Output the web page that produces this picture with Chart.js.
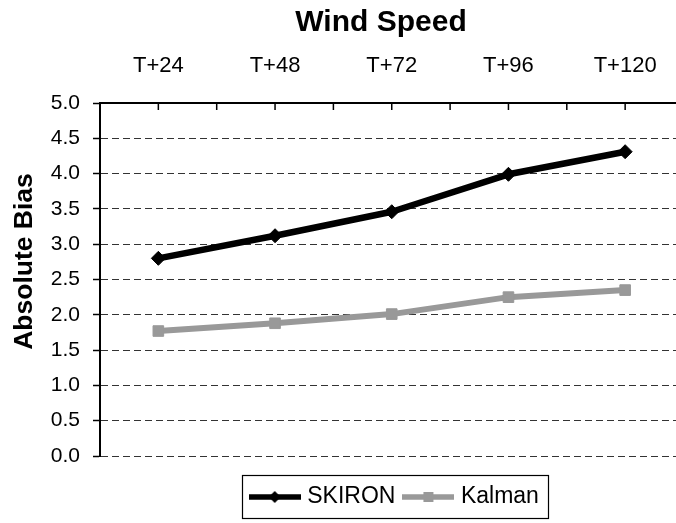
<!DOCTYPE html>
<html><head><meta charset="utf-8">
<script src="https://cdn.jsdelivr.net/npm/chart.js@4.4.1/dist/chart.umd.min.js"></script>
<style>
html,body{margin:0;padding:0;overflow:hidden;background:#fff;}
#wrap{position:relative;width:762px;height:523px;}
</style></head><body>
<div id="wrap"><canvas id="c"></canvas></div>
<script>
// ---- data ----
const categories = ['T+24', 'T+48', 'T+72', 'T+96', 'T+120'];
const skironValues = [2.80, 3.12, 3.46, 3.99, 4.31];
const kalmanValues = [1.77, 1.88, 2.01, 2.25, 2.35];
const seriesNames = ['SKIRON', 'Kalman'];
const yMin = 0, yMax = 5, yStep = 0.5;
const chartTitle = 'Wind Speed';
const yAxisTitle = 'Absolute Bias';

const FONT = "'Liberation Sans', Arial, sans-serif";
const BLACK = '#000000';
const GREY = '#999999';

function legendSample(color, shape, lw, r) {
  const c = document.createElement('canvas');
  c.width = 52; c.height = 16;
  const g = c.getContext('2d');
  g.strokeStyle = color; g.lineWidth = lw;
  g.beginPath(); g.moveTo(0, 8); g.lineTo(52, 8); g.stroke();
  g.fillStyle = color;
  if (shape === 'diamond') {
    g.beginPath(); g.moveTo(26 - r, 8); g.lineTo(26, 8 - r); g.lineTo(26 + r, 8); g.lineTo(26, 8 + r); g.closePath(); g.fill();
  } else {
    g.fillRect(26 - r, 8 - r, 2 * r, 2 * r);
  }
  return c;
}
const samples = [legendSample(BLACK, 'diamond', 5.5, 6), legendSample(GREY, 'square', 5.5, 5)];

const extras = {
  id: 'extras',
  afterLayout(chart) {
    const lg = chart.legend;
    if (lg) { lg.left += 15.3; lg.right += 15.3; }
    const y = chart.scales.y;
    if (y && !y.__patched) {
      y.__patched = true;
      const orig = y.drawTitle;
      y.drawTitle = function () {
        const t = this.top, b = this.bottom;
        this.top = t - 18; this.bottom = b - 18;
        orig.call(this);
        this.top = t; this.bottom = b;
      };
    }
  },
  beforeDatasetsDraw(chart) {
    const x = chart.scales.x, ctx = chart.ctx, top = chart.chartArea.top;
    const half = (x.getPixelForValue(1) - x.getPixelForValue(0)) / 2;
    ctx.save();
    ctx.strokeStyle = BLACK; ctx.lineWidth = 1.5;
    ctx.beginPath();
    categories.forEach((c, i) => {
      const cx = x.getPixelForValue(i);
      [cx - half, cx, cx + half].forEach(px => { ctx.moveTo(px, top); ctx.lineTo(px, top + 7); });
    });
    ctx.stroke();
    ctx.restore();
  },
  afterDraw(chart) {
    const hb = chart.legend && chart.legend.legendHitBoxes;
    if (!hb || !hb.length) return;
    const first = hb[0], last = hb[hb.length - 1];
    const ctx = chart.ctx;
    const l = first.left - 12, r = last.left + last.width + 9;
    const t = first.top - 10.5, b = first.top + first.height + 9.5;
    ctx.save();
    ctx.strokeStyle = BLACK; ctx.lineWidth = 1.2;
    ctx.strokeRect(Math.round(l) + 0.5, Math.round(t) + 0.5, Math.round(r - l), Math.round(b - t));
    ctx.restore();
  }
};

new Chart(document.getElementById('c'), {
  type: 'line',
  data: {
    labels: categories,
    datasets: [
      { label: seriesNames[0], data: skironValues, xAxisID: 'x', yAxisID: 'y',
        borderColor: BLACK, backgroundColor: BLACK, borderWidth: 6.5,
        pointStyle: 'rectRot', pointRadius: 7, pointBackgroundColor: BLACK, pointBorderColor: BLACK, pointBorderWidth: 1,
        tension: 0, borderJoinStyle: 'round', fill: false },
      { label: seriesNames[1], data: kalmanValues, xAxisID: 'x', yAxisID: 'y',
        borderColor: GREY, backgroundColor: GREY, borderWidth: 6,
        pointStyle: 'rect', pointRadius: 7.5, pointBackgroundColor: GREY, pointBorderColor: GREY, pointBorderWidth: 1,
        tension: 0, borderJoinStyle: 'round', fill: false }
    ]
  },
  options: {
    responsive: true,
    maintainAspectRatio: false,
    animation: false,
    devicePixelRatio: 1,
    layout: { padding: { left: 0, right: 0, top: 0, bottom: 4.5 } },
    plugins: {
      title: { display: true, text: chartTitle, color: BLACK,
        font: { family: FONT, size: 30, weight: 'bold', lineHeight: 1.2 },
        padding: { top: 5, bottom: 10 } },
      legend: {
        display: true, position: 'bottom',
        labels: {
          usePointStyle: true, pointStyleWidth: 42, padding: 12, color: BLACK,
          font: { family: FONT, size: 23 },
          generateLabels(chart) {
            return chart.data.datasets.map((ds, i) => ({
              text: ds.label, pointStyle: samples[i], fillStyle: ds.borderColor,
              strokeStyle: ds.borderColor, lineWidth: 0, hidden: false, datasetIndex: i
            }));
          }
        }
      },
      tooltip: { enabled: false }
    },
    scales: {
      x: {
        type: 'category', position: 'top', offset: true,
        grid: { display: false, drawTicks: false },
        border: { display: true, color: BLACK, width: 2 },
        ticks: { color: BLACK, font: { family: FONT, size: 22 }, padding: 24, maxRotation: 0, autoSkip: false },
        afterFit(s) { s.height = 52; }
      },
      xb: {
        type: 'category', position: 'bottom', display: true,
        grid: { display: false, drawTicks: false }, border: { display: false },
        ticks: { display: false },
        afterFit(s) { s.height = 17.5; }
      },
      yr: {
        type: 'linear', position: 'right', display: true, min: yMin, max: yMax,
        grid: { display: false, drawTicks: false }, border: { display: false },
        ticks: { display: false },
        afterFit(s) { s.width = 78.5; }
      },
      y: {
        type: 'linear', position: 'left', min: yMin, max: yMax,
        ticks: { stepSize: yStep, color: BLACK, font: { family: FONT, size: 21 }, padding: 13,
          callback: v => Number(v).toFixed(1) },
        grid: { color: '#333333', lineWidth: 1, tickLength: 7, tickColor: BLACK, tickWidth: 1.5, tickBorderDash: [] },
        border: { display: true, color: BLACK, width: 2, dash: [7, 4] },
        title: { display: true, text: yAxisTitle, color: BLACK,
          font: { family: FONT, size: 26.5, weight: 'bold', lineHeight: 1.2 },
          padding: { top: 8.4, bottom: 0 } },
        afterFit(s) { s.width = 100; }
      }
    }
  },
  plugins: [extras]
});
</script>
</body></html>
